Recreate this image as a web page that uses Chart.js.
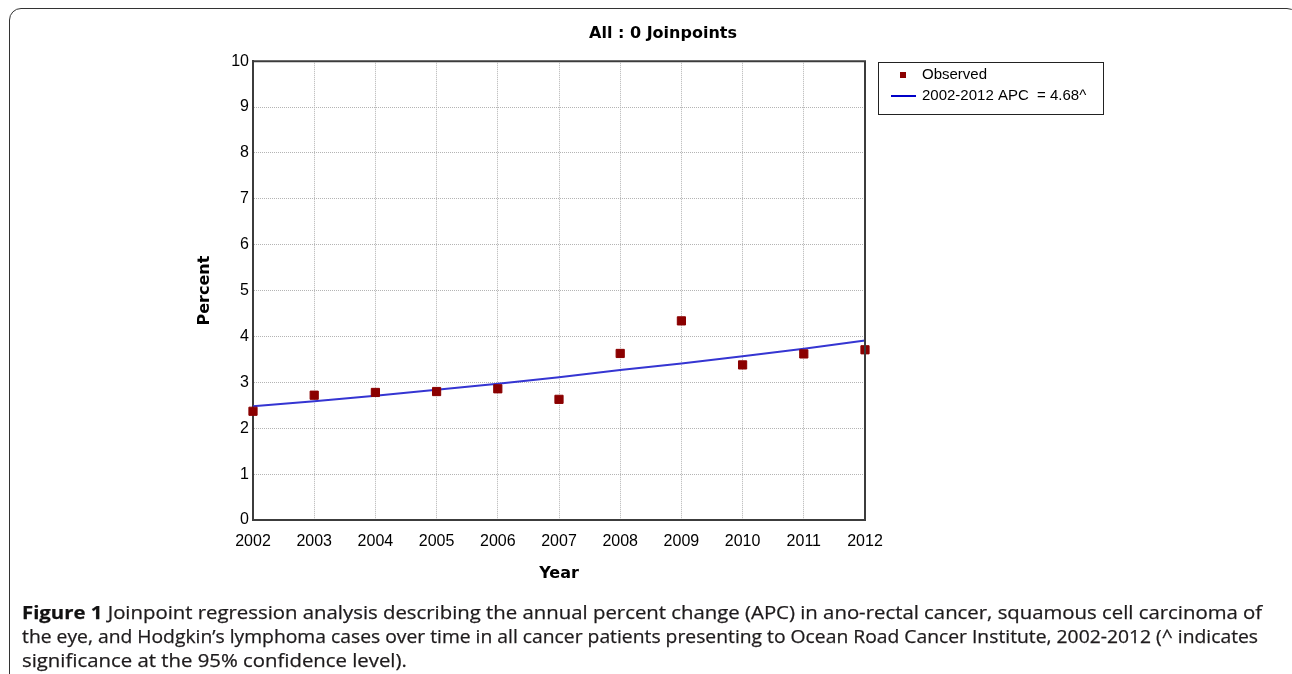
<!DOCTYPE html>
<html>
<head>
<meta charset="utf-8">
<script src="https://cdn.jsdelivr.net/npm/chart.js@4"></script>
<style>
  html, body { margin: 0; padding: 0; background: #fff; }
  body { width: 1292px; height: 674px; position: relative; overflow: hidden; }
  #frame {
    position: absolute; left: 9px; top: 8px; width: 1290px; height: 680px;
    border: 1.5px solid #333; border-radius: 12px; box-sizing: border-box;
  }
  #wrap { position: absolute; left: 190px; top: 0; width: 946px; height: 600px; }
  .cap {
    position: absolute; left: 22px; white-space: nowrap; transform-origin: 0 0;
    font-family: "Open Sans", sans-serif; font-size: 18.5px; color: #1e1b1c;
    -webkit-text-stroke: 0.25px #1e1b1c;
  }
  .cap b { color: #111; }
</style>
</head>
<body>
<div id="frame"></div>
<div id="wrap"><canvas id="joinChart"></canvas></div>
<div class="cap" id="cap1" style="top:599px"><b>Figure 1</b> Joinpoint regression analysis describing the annual percent change (APC) in ano-rectal cancer, squamous cell carcinoma of</div>
<div class="cap" id="cap2" style="top:623px">the eye, and Hodgkin’s lymphoma cases over time in all cancer patients presenting to Ocean Road Cancer Institute, 2002-2012 (^ indicates</div>
<div class="cap" id="cap3" style="top:647px">significance at the 95% confidence level).</div>
<script>
// data
const years = ['2002', '2003', '2004', '2005', '2006', '2007', '2008', '2009', '2010', '2011', '2012'];
const observed = [2.37, 2.72, 2.78, 2.80, 2.86, 2.63, 3.63, 4.34, 3.38, 3.62, 3.71];
const fitted = [2.48, 2.59, 2.71, 2.84, 2.97, 3.11, 3.27, 3.41, 3.57, 3.73, 3.91];
const yTicks = [0, 1, 2, 3, 4, 5, 6, 7, 8, 9, 10];
const legendLabels = ['Observed', '2002-2012 APC  = 4.68^'];

const pointColor = '#8b0000';
const lineColor = '#3535d2';
const gridColor = '#b4b4b4';
const axisColor = '#3c3c3c';

Chart.defaults.font.family = '"Liberation Sans", Arial, sans-serif';
Chart.defaults.color = '#000';

// frame around the plot area (top + right edges)
const boxPlugin = {
  id: 'plotBox',
  afterDraw(chart) {
    const { ctx, chartArea: a } = chart;
    ctx.save();
    ctx.strokeStyle = axisColor;
    ctx.lineWidth = 2;
    ctx.beginPath();
    ctx.moveTo(a.left, a.top);
    ctx.lineTo(a.right, a.top);
    ctx.lineTo(a.right, a.bottom);
    ctx.stroke();
    ctx.restore();
  }
};

// boxed legend to the right of the plot
const legendPlugin = {
  id: 'boxLegend',
  afterDraw(chart) {
    const { ctx, chartArea: a } = chart;
    const x = a.right + 13, y = 62, w = 225, h = 52;
    ctx.save();
    ctx.strokeStyle = '#222';
    ctx.lineWidth = 1;
    ctx.strokeRect(x + 0.5, y + 0.5, w, h);

    ctx.fillStyle = pointColor;
    ctx.fillRect(x + 22, y + 10, 6, 6);

    ctx.strokeStyle = '#0000c8';
    ctx.lineWidth = 2;
    ctx.beginPath();
    ctx.moveTo(x + 13, y + 34);
    ctx.lineTo(x + 38, y + 34);
    ctx.stroke();

    ctx.fillStyle = '#000';
    ctx.font = '15px "Liberation Sans", Arial, sans-serif';
    ctx.textBaseline = 'middle';
    ctx.fillText(legendLabels[0], x + 44, y + 13);
    ctx.fillText(legendLabels[1], x + 44, y + 34);
    ctx.restore();
  }
};

new Chart(document.getElementById('joinChart'), {
  type: 'line',
  data: {
    labels: years,
    datasets: [
      {
        label: legendLabels[1],
        data: fitted,
        borderColor: lineColor,
        borderWidth: 2,
        pointRadius: 0,
        tension: 0,
        order: 2
      },
      {
        label: legendLabels[0],
        data: observed,
        showLine: false,
        pointStyle: 'rect',
        pointRadius: 5.8,
        backgroundColor: pointColor,
        borderColor: pointColor,
        borderWidth: 1,
        order: 1
      }
    ]
  },
  options: {
    responsive: true,
    maintainAspectRatio: false,
    animation: false,
    layout: { padding: { left: 0, right: 0, top: 0, bottom: 15 } },
    plugins: {
      legend: { display: false },
      tooltip: { enabled: false },
      title: {
        display: true,
        text: 'All : 0 Joinpoints',
        color: '#000',
        font: { family: '"DejaVu Sans", Verdana, sans-serif', size: 16, weight: 'bold' },
        padding: { top: 24, bottom: 18 }
      }
    },
    scales: {
      x: {
        offset: false,
        grid: { color: gridColor, lineWidth: 1, drawTicks: false },
        border: { display: true, color: axisColor, width: 2, dash: [1, 1] },
        ticks: { padding: 12, font: { size: 16 }, color: '#000', autoSkip: false, maxRotation: 0 },
        title: {
          display: true,
          text: 'Year',
          color: '#000',
          font: { family: '"DejaVu Sans", Verdana, sans-serif', size: 16, weight: 'bold' },
          padding: { top: 0, bottom: 2 }
        },
        afterFit(scale) { scale.height = 65; }
      },
      y: {
        min: 0,
        max: 10,
        afterBuildTicks(scale) { scale.ticks = yTicks.map(v => ({ value: v })); },
        grid: { color: gridColor, lineWidth: 1, drawTicks: false },
        border: { display: true, color: axisColor, width: 2, dash: [1, 1] },
        ticks: { padding: 4, font: { size: 16 }, color: '#000' },
        title: {
          display: true,
          text: 'Percent',
          color: '#000',
          font: { family: '"DejaVu Sans", Verdana, sans-serif', size: 16, weight: 'bold' },
          padding: { top: 5, bottom: 0 }
        },
        afterFit(scale) { scale.width = 63; }
      },
      // empty right-hand axis that reserves room for the legend box
      side: {
        position: 'right',
        grid: { display: false },
        border: { display: false },
        ticks: { display: false },
        afterFit(scale) { scale.width = 271; }
      }
    }
  },
  plugins: [boxPlugin, legendPlugin]
});

// stretch caption lines to the widths they have in the figure
const capWidths = { cap1: 1240, cap2: 1236 };
const s1 = capWidths.cap1 / document.getElementById('cap1').offsetWidth;
document.getElementById('cap1').style.transform = 'scaleX(' + s1 + ')';
document.getElementById('cap2').style.transform = 'scaleX(' + (capWidths.cap2 / document.getElementById('cap2').offsetWidth) + ')';
document.getElementById('cap3').style.transform = 'scaleX(' + s1 + ')';
</script>
</body>
</html>
